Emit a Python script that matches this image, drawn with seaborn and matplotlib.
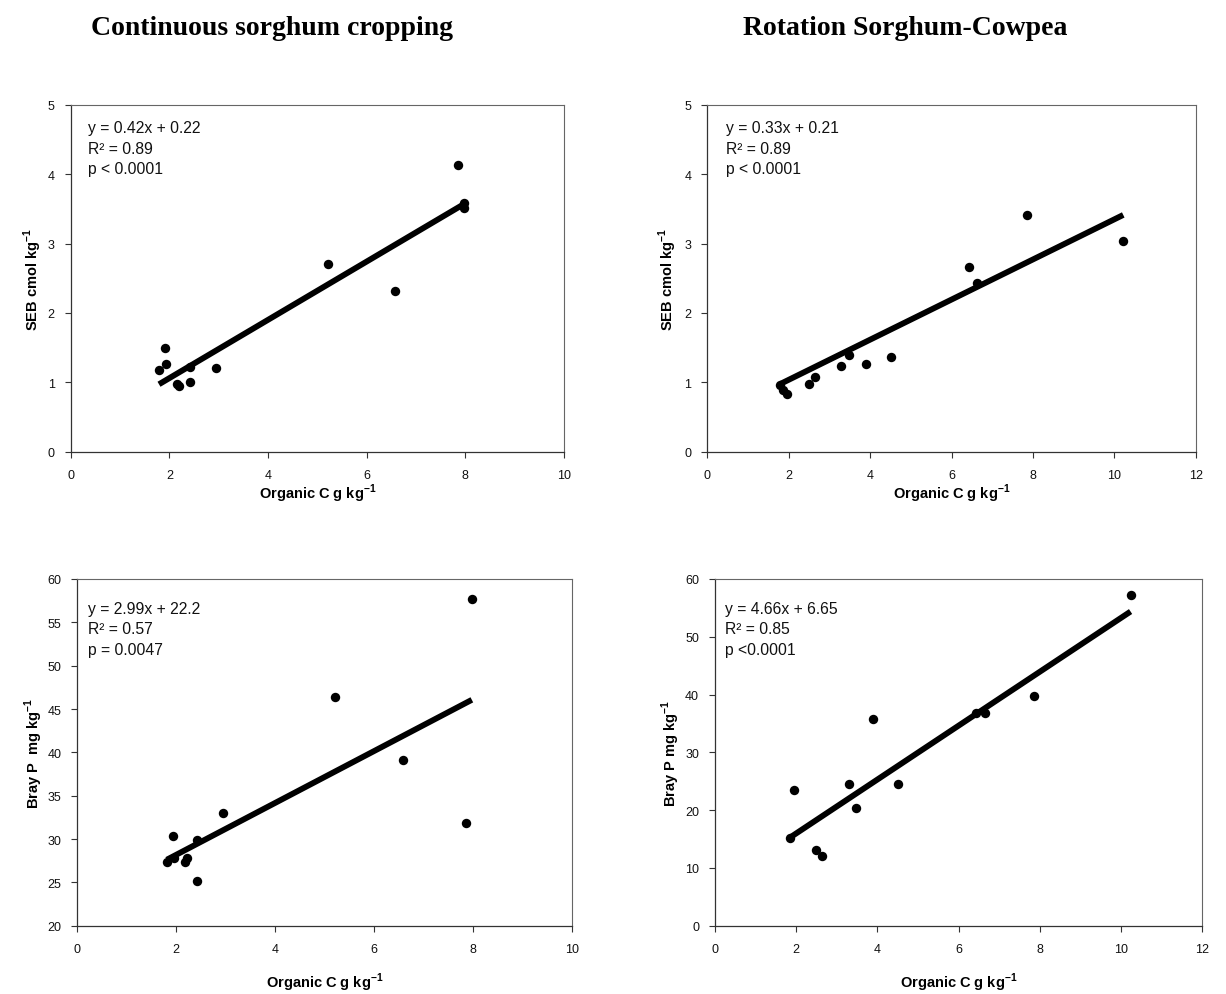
import numpy as np
import pandas as pd
import matplotlib
matplotlib.use("Agg")
import matplotlib.pyplot as plt
import seaborn as sns

# ---------------- data ----------------
# Continuous sorghum: SEB
cs_seb_x = [7.86, 7.97, 7.97, 5.21, 6.58, 1.91, 1.94, 1.79, 2.42, 2.94, 2.16, 2.19, 2.42]
cs_seb_y = [4.13, 3.58, 3.51, 2.71, 2.31, 1.49, 1.26, 1.18, 1.22, 1.21, 0.98, 0.95, 1.01]
# Rotation sorghum-cowpea: SEB
rot_seb_x = [7.85, 10.22, 6.43, 6.63, 4.51, 3.91, 3.48, 3.28, 2.65, 2.50, 1.79, 1.85, 1.97]
rot_seb_y = [3.41, 3.03, 2.66, 2.43, 1.37, 1.26, 1.40, 1.24, 1.08, 0.98, 0.96, 0.89, 0.83]
# Continuous sorghum: Bray P
cs_p_x = [7.98, 5.22, 6.59, 7.87, 2.95, 1.93, 2.42, 2.21, 2.18, 1.96, 1.81, 2.42]
cs_p_y = [57.7, 46.4, 39.1, 31.8, 33.0, 30.4, 29.9, 27.85, 27.3, 27.8, 27.3, 25.2]
# Rotation sorghum-cowpea: Bray P
rot_p_x = [10.24, 7.85, 6.43, 6.66, 3.89, 3.29, 4.52, 3.48, 1.95, 1.84, 2.50, 2.64]
rot_p_y = [57.3, 39.8, 36.75, 36.75, 35.8, 24.5, 24.5, 20.3, 23.4, 15.15, 13.1, 12.0]

# fitted lines as drawn (slope, intercept)
line_slope = [0.42, 0.289, 2.99, 4.66]
line_intercept = [0.22, 0.458, 22.2, 6.65]

annotations = [
    "y = 0.42x + 0.22\nR² = 0.89\np < 0.0001",
    "y = 0.33x + 0.21\nR² = 0.89\np < 0.0001",
    "y = 2.99x + 22.2\nR² = 0.57\np = 0.0047",
    "y = 4.66x + 6.65\nR² = 0.85\np <0.0001",
]
titles = ["Continuous sorghum cropping", "Rotation Sorghum-Cowpea"]
xlabel = r"Organic C g kg$^{\mathbf{-1}}$"
ylabels = [r"SEB cmol kg$^{\mathbf{-1}}$", r"SEB cmol kg$^{\mathbf{-1}}$",
           r"Bray P  mg kg$^{\mathbf{-1}}$", r"Bray P mg kg$^{\mathbf{-1}}$"]
xlims = [(0, 10), (0, 12), (0, 10), (0, 12)]
ylims = [(0, 5), (0, 5), (20, 60), (0, 60)]
ysteps = [1, 1, 5, 10]

# ---------------- style ----------------
sns.set_style("ticks")
plt.rcParams["font.family"] = ["Liberation Sans", "DejaVu Sans"]
plt.rcParams["mathtext.fontset"] = "custom"
plt.rcParams["mathtext.rm"] = "Liberation Sans"
plt.rcParams["mathtext.bf"] = "Liberation Sans:bold"
plt.rcParams["text.color"] = "black"
plt.rcParams["axes.labelcolor"] = "black"

W, H = 1226, 995
fig = plt.figure(figsize=(W / 100, H / 100), dpi=100)
fig.patch.set_facecolor("white")

def box(l, r, t, b):
    return [l / W, 1 - b / H, (r - l) / W, (b - t) / H]

rects = [box(70.7, 564, 105.7, 452.7), box(707.3, 1195.7, 105.7, 452.7),
         box(77.3, 571.7, 580, 926.7), box(715, 1202, 580, 926.7)]
text_pos = [(0.035, 0.955), (0.038, 0.955), (0.021, 0.937), (0.0205, 0.937)]
xlabelpads = [0.5, 0.5, 11, 11]
ylabelpads = [2.5, 4, 2, 2.5]

datasets = [(cs_seb_x, cs_seb_y), (rot_seb_x, rot_seb_y),
            (cs_p_x, cs_p_y), (rot_p_x, rot_p_y)]

for i, (xs, ys) in enumerate(datasets):
    ax = fig.add_axes(rects[i])
    df = pd.DataFrame({"x": xs, "y": ys})
    xr = np.array([min(xs), max(xs)])
    ldf = pd.DataFrame({"x": xr, "y": line_slope[i] * xr + line_intercept[i]})
    sns.lineplot(data=ldf, x="x", y="y", ax=ax, color="black", linewidth=4.2,
                 solid_capstyle="butt", zorder=2)
    sns.scatterplot(data=df, x="x", y="y", ax=ax, color="black", s=46,
                    edgecolor="black", linewidth=0, zorder=3)
    ax.set_xlim(*xlims[i])
    ax.set_ylim(*ylims[i])
    ax.set_xticks(np.arange(xlims[i][0], xlims[i][1] + 0.01, 2))
    ax.set_yticks(np.arange(ylims[i][0], ylims[i][1] + 0.01, ysteps[i]))
    ax.tick_params(direction="out", length=4, width=0.8, labelsize=9,
                   color="#333333", labelcolor="#111111")
    ax.tick_params(axis="x", pad=8.5)
    ax.tick_params(axis="y", pad=7.5)
    for side in ["top", "right"]:
        ax.spines[side].set_visible(True)
        ax.spines[side].set_color("#666666")
        ax.spines[side].set_linewidth(0.8)
    for side in ["left", "bottom"]:
        ax.spines[side].set_color("#333333")
        ax.spines[side].set_linewidth(0.9)
    ax.set_xlabel(xlabel, fontsize=10.5, fontweight="bold", labelpad=xlabelpads[i])
    ax.set_ylabel(ylabels[i], fontsize=10.5, fontweight="bold", labelpad=ylabelpads[i])
    ax.text(text_pos[i][0], text_pos[i][1], annotations[i], transform=ax.transAxes,
            ha="left", va="top", fontsize=11.3, linespacing=1.45, color="#111111")

fig.text(272 / W, 1 - 35 / H, titles[0], ha="center", va="baseline", color="black",
         fontsize=20, fontweight="bold", family=["Liberation Serif", "DejaVu Serif"])
fig.text(905 / W, 1 - 35 / H, titles[1], ha="center", va="baseline", color="black",
         fontsize=20, fontweight="bold", family=["Liberation Serif", "DejaVu Serif"])

fig.savefig("out.png", dpi=100, facecolor="white")
